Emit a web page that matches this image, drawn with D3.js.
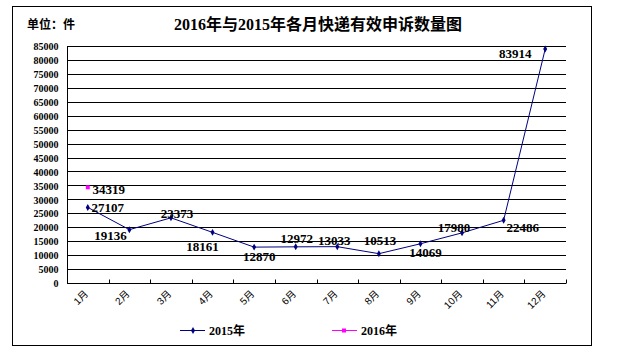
<!DOCTYPE html>
<html>
<head>
<meta charset="utf-8">
<script src="https://cdn.jsdelivr.net/npm/d3@7"></script>
<style>
  body { margin: 0; background: #fff; }
  svg text { font-family: "Liberation Serif", "Noto Sans CJK SC", serif; }
</style>
</head>
<body>
<div id="chart"></div>
<script>
const months = ['1月', '2月', '3月', '4月', '5月', '6月', '7月', '8月', '9月', '10月', '11月', '12月'];
const values2015 = [27107, 19136, 23373, 18161, 12870, 12972, 13033, 10513, 14069, 17980, 22486, 83914];
const values2016 = [34319];
const seriesNames = ['2015年', '2016年'];
const yTicks = d3.range(0, 85001, 5000);

// label offsets from each point (text centre)
const labelOffsets2015 = [[20, 0], [-19, 6], [6, -4], [-10, 14], [5, 9], [1, -8], [-3, -6], [1, -13], [5, 9], [-8, -5], [19, 7], [-30, 4]];
const labelOffsets2016 = [[21, 2]];

const config = {
  width: 619,
  height: 363,
  plot: { left: 67, right: 566, top: 46, bottom: 283 },
  colors: { s2015: '#000080', s2016: '#ff00ff', grid: '#000' }
};

const svg = d3.select('#chart')
  .append('svg')
  .attr('width', config.width)
  .attr('height', config.height);

// outer frame
svg.append('rect')
  .attr('x', 12.5).attr('y', 6.5)
  .attr('width', 579).attr('height', 339)
  .attr('fill', 'none').attr('stroke', '#000').attr('stroke-width', 1);

svg.append('text')
  .attr('x', 318).attr('y', 30)
  .attr('text-anchor', 'middle')
  .style('font-size', '16px').style('font-weight', 'bold')
  .text('2016年与2015年各月快递有效申诉数量图');

svg.append('text')
  .attr('x', 27).attr('y', 29)
  .style('font-size', '12px').style('font-weight', 'bold')
  .text('单位：件');

const x = d3.scaleBand()
  .domain(months)
  .range([config.plot.left, config.plot.right]);

const y = d3.scaleLinear()
  .domain([0, 85000])
  .range([config.plot.bottom, config.plot.top]);

const cx = (i) => x(months[i]) + x.bandwidth() / 2;

// gridlines
svg.append('g')
  .selectAll('line')
  .data(yTicks.slice(1))
  .enter()
  .append('line')
  .attr('x1', config.plot.left).attr('x2', config.plot.right)
  .attr('y1', d => Math.round(y(d)) + 0.5).attr('y2', d => Math.round(y(d)) + 0.5)
  .attr('stroke', config.colors.grid);

// y axis
const yAxis = svg.append('g')
  .attr('transform', `translate(${config.plot.left + 0.5},0.5)`)
  .call(d3.axisLeft(y).tickValues(yTicks).tickSize(0).tickPadding(9).tickFormat(d3.format('d')));
yAxis.select('.domain').attr('d', `M0,${y(85000)}V${y(0)}`);
yAxis.selectAll('text')
  .style('font-family', '"Liberation Serif", serif')
  .style('font-size', '10px').style('font-weight', 'bold');

// x axis, ticks pointing inside at band edges
const xAxis = svg.append('g')
  .attr('transform', `translate(0,${config.plot.bottom + 0.5})`);
xAxis.append('line')
  .attr('x1', config.plot.left).attr('x2', config.plot.right)
  .attr('stroke', '#000');
xAxis.selectAll('.edge')
  .data(months)
  .enter()
  .append('line')
  .attr('x1', d => Math.round(x(d) + x.bandwidth()) + 0.5)
  .attr('x2', d => Math.round(x(d) + x.bandwidth()) + 0.5)
  .attr('y1', 0).attr('y2', -4)
  .attr('stroke', '#000');
xAxis.selectAll('.lbl')
  .data(months)
  .enter()
  .append('text')
  .attr('transform', d => `translate(${x(d) + x.bandwidth() / 2 + 1},${11}) rotate(-45)`)
  .attr('text-anchor', 'end')
  .style('font-size', '10px')
  .style('font-family', '"Liberation Sans", "Noto Sans CJK SC", sans-serif')
  .text(d => d);

// 2015 line
const line = d3.line()
  .x((d, i) => cx(i))
  .y(d => y(d));

svg.append('path')
  .datum(values2015)
  .attr('d', line)
  .attr('fill', 'none')
  .attr('stroke', config.colors.s2015)
  .attr('stroke-width', 1);

const diamond = d3.symbol().type(d3.symbolDiamond).size(14);

svg.append('g')
  .selectAll('path')
  .data(values2015)
  .enter()
  .append('path')
  .attr('d', diamond)
  .attr('transform', (d, i) => `translate(${cx(i)},${y(d)})`)
  .attr('fill', config.colors.s2015);

svg.append('g')
  .selectAll('rect')
  .data(values2016)
  .enter()
  .append('rect')
  .attr('x', (d, i) => cx(i) - 2)
  .attr('y', d => y(d) - 2)
  .attr('width', 4).attr('height', 4)
  .attr('fill', config.colors.s2016);

// data labels
const addLabels = (values, offsets) => {
  svg.append('g')
    .selectAll('text')
    .data(values)
    .enter()
    .append('text')
    .attr('x', (d, i) => cx(i) + offsets[i][0])
    .attr('y', (d, i) => y(d) + offsets[i][1])
    .attr('dy', '0.35em')
    .attr('text-anchor', 'middle')
    .style('font-size', '13px')
    .style('font-weight', 'bold')
    .text(d => d);
};
addLabels(values2015, labelOffsets2015);
addLabels(values2016, labelOffsets2016);

// legend
const legend = svg.append('g');
const legendItems = [
  { name: seriesNames[0], x: 180, color: config.colors.s2015, marker: 'diamond' },
  { name: seriesNames[1], x: 332, color: config.colors.s2016, marker: 'square' }
];
legendItems.forEach(item => {
  const g = legend.append('g').attr('transform', `translate(${item.x},330)`);
  g.append('line').attr('x1', 0).attr('x2', 25).attr('y1', 0.5).attr('y2', 0.5)
    .attr('stroke', item.color);
  if (item.marker === 'diamond') {
    g.append('path').attr('d', diamond).attr('transform', 'translate(13,0.5)').attr('fill', item.color);
  } else {
    g.append('rect').attr('x', 10).attr('y', -1.5).attr('width', 4).attr('height', 4).attr('fill', item.color);
  }
  g.append('text').attr('x', 29).attr('y', 4.5)
    .style('font-size', '12px').style('font-weight', 'bold')
    .text(item.name);
});
</script>
</body>
</html>
